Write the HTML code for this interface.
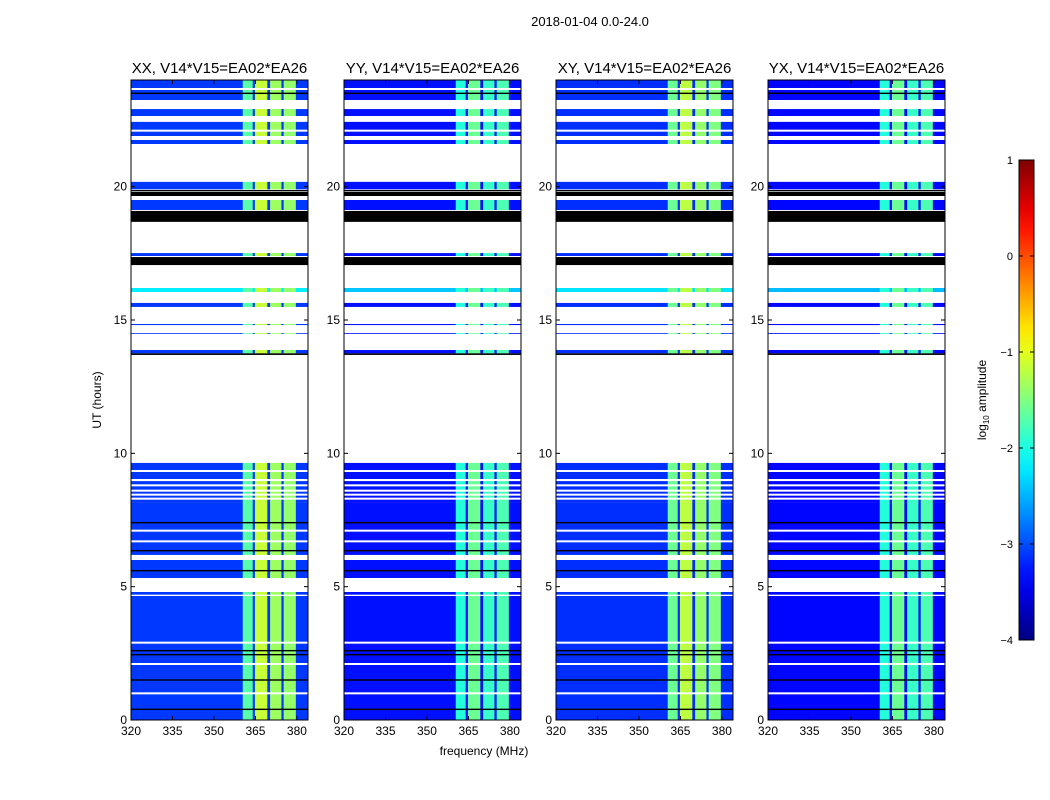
<!DOCTYPE html>
<html><head><meta charset="utf-8"><style>
body{margin:0;background:#fff;font-family:"Liberation Sans","DejaVu Sans",sans-serif}
</style></head><body>
<svg id="fig" width="1050" height="800" xmlns="http://www.w3.org/2000/svg" style="display:block">
<rect width="1050" height="800" fill="#fff"/>
<text x="590" y="26" font-size="13" text-anchor="middle">2018-01-04 0.0-24.0</text>
<text x="484" y="755" font-size="12" text-anchor="middle">frequency (MHz)</text>
<text x="101" y="400" font-size="12" text-anchor="middle" transform="rotate(-90 101 400)">UT (hours)</text>
</svg>
<script>
// ---- data ----
const panelTitles = ["XX, V14*V15=EA02*EA26","YY, V14*V15=EA02*EA26","XY, V14*V15=EA02*EA26","YX, V14*V15=EA02*EA26"];
const panelLefts = [131,344,556,768];
const freqEdges = [320,360.4,364.0,364.8,369.3,370.3,374.4,375.2,379.6,384];
const bandIsBright = [0,1,0,1,0,1,0,1,0];
const baseLevel = [-3.1,-3.3,-3.15,-3.35];
const bandLevelXX = [-1.7,-1.15,-1.35,-1.4];
const bandLevelYY = [-1.95,-1.6,-1.85,-1.75];
const bandLevelXY = [-1.6,-1.2,-1.4,-1.5];
const bandLevelYX = [-1.95,-1.6,-1.85,-1.75];
const segStart = [23.70,23.25,22.65,21.90,21.60,19.90,19.65,19.125,18.68,17.40,17.06,16.05,15.49,14.81,14.48,13.75,13.69,9.375,8.93,8.14,6.19,5.325,4.70,4.575,0];
const segEnd   = [24.00,23.625,22.91,22.43,21.75,20.18,19.80,19.50,19.09,17.51,17.36,16.20,15.64,14.85,14.51,13.875,13.75,9.64,9.30,8.93,8.14,6.00,4.80,4.65,4.575];
const segType  = ["d","d","d","d","d","d","k","d","k","d","k","c","d","d","d","d","k","d","d","d","d","d","d","d","d"];
const whiteLines = [23.0,22.1,9.0,8.8,8.6,8.45,8.3,7.1,6.7,2.9,2.1,1.0];
const blackLines = [23.5,19.85,17.2,7.4,6.35,5.6,2.6,2.45,1.5,0.4];
const cbTicks = [1,0,-1,-2,-3,-4];
// ---- helpers ----
const svgRoot=document.getElementById('fig');const NS="http://www.w3.org/2000/svg";
function mk(t,a,p){const e=document.createElementNS(NS,t);for(const k in a)e.setAttribute(k,a[k]);(p||svgRoot).appendChild(e);return e;}
function jet(t){t=Math.max(0,Math.min(1,t));
 const r=Math.max(0,Math.min(1,Math.min(4*t-1.5,-4*t+4.5)));
 const g=Math.max(0,Math.min(1,Math.min(4*t-0.5,-4*t+3.5)));
 const b=Math.max(0,Math.min(1,Math.min(4*t+0.5,-4*t+2.5)));
 return `rgb(${Math.round(r*255)},${Math.round(g*255)},${Math.round(b*255)})`;}
function col(v){return jet((v+4)/5);}
const plotTop=80,plotBot=720,plotW=177;
function yS(h){return plotBot-(h/24)*(plotBot-plotTop);}
const bandSets=[bandLevelXX,bandLevelYY,bandLevelXY,bandLevelYX];
panelTitles.forEach((title,p)=>{
 const L=panelLefts[p];
 const xS=f=>L+(f-320)/(384-320)*plotW;
 const g=mk('g',{});
 
 
 segStart.forEach((s,i)=>{
  const e=segEnd[i],ty=segType[i];
  if(ty==='k'){const r=mk('rect',{x:L,y:yS(e),width:plotW,height:yS(s)-yS(e),fill:'#000'},g);
   
   
   return;}
  let bi=0;
  for(let j=0;j<freqEdges.length-1;j++){
   let v=baseLevel[p]+(ty==='c'?0.9:0);
   if(bandIsBright[j]){v=bandSets[p][bi];bi++;}
   const r=mk('rect',{x:xS(freqEdges[j]),y:yS(e),width:xS(freqEdges[j+1])-xS(freqEdges[j])+0.3,height:yS(s)-yS(e),fill:col(v)},g);
   
   
  }
 });
 whiteLines.forEach(h=>{const r=mk('rect',{x:L,y:yS(h)-1,width:plotW,height:2,fill:'#fff'},g);
  
  });
 blackLines.forEach(h=>{const r=mk('rect',{x:L,y:yS(h)-0.7,width:plotW,height:1.4,fill:'#000'},g);
  
  });
 const fr=mk('rect',{x:L,y:plotTop,width:plotW,height:plotBot-plotTop,fill:'none',stroke:'#000','stroke-width':1});
 
 
 const tt=mk('text',{x:L+plotW/2,y:73,'font-size':15,'text-anchor':'middle'});tt.textContent=title;
 
 
 [320,335,350,365,380].forEach(f=>{
  mk('line',{x1:xS(f),x2:xS(f),y1:plotBot,y2:plotBot-4,stroke:'#000'});
  mk('line',{x1:xS(f),x2:xS(f),y1:plotTop,y2:plotTop+4,stroke:'#000'});
  const t=mk('text',{x:xS(f),y:plotBot+15,'font-size':12,'text-anchor':'middle'});t.textContent=f;
  
  
 });
 [0,5,10,15,20].forEach(h=>{
  mk('line',{x1:L,x2:L+4,y1:yS(h),y2:yS(h),stroke:'#000'});
  mk('line',{x1:L+plotW,x2:L+plotW-4,y1:yS(h),y2:yS(h),stroke:'#000'});
  const t=mk('text',{x:L-4,y:yS(h)+4,'font-size':12,'text-anchor':'end'});t.textContent=h;
  
  
 });
});
// colorbar
const cbx=1019,cbw=15,cbt=160,cbb=640;
const defs=mk('defs',{});const lg=mk('linearGradient',{id:'jetg',x1:0,y1:1,x2:0,y2:0},defs);
for(let i=0;i<=20;i++){mk('stop',{offset:i/20,'stop-color':jet(i/20)},lg);}
const cb=mk('rect',{x:cbx,y:cbt,width:cbw,height:cbb-cbt,fill:'url(#jetg)',stroke:'#000'});


cbTicks.forEach(v=>{const y=cbb-(v+4)/5*(cbb-cbt);
 mk('line',{x1:cbx,x2:cbx+4,y1:y,y2:y,stroke:'#000'});mk('line',{x1:cbx+cbw,x2:cbx+cbw-4,y1:y,y2:y,stroke:'#000'});
 const t=mk('text',{x:cbx-6,y:y+4,'font-size':11,'text-anchor':'end'});t.textContent=v<0?'\u2212'+(-v):v;
 
 });
const cl=mk('text',{x:986,y:400,'font-size':12,'text-anchor':'middle',transform:'rotate(-90 986 400)'});
cl.innerHTML='log<tspan font-size="8" dy="3">10</tspan><tspan dy="-3"> amplitude</tspan>';


</script>
</body></html>
